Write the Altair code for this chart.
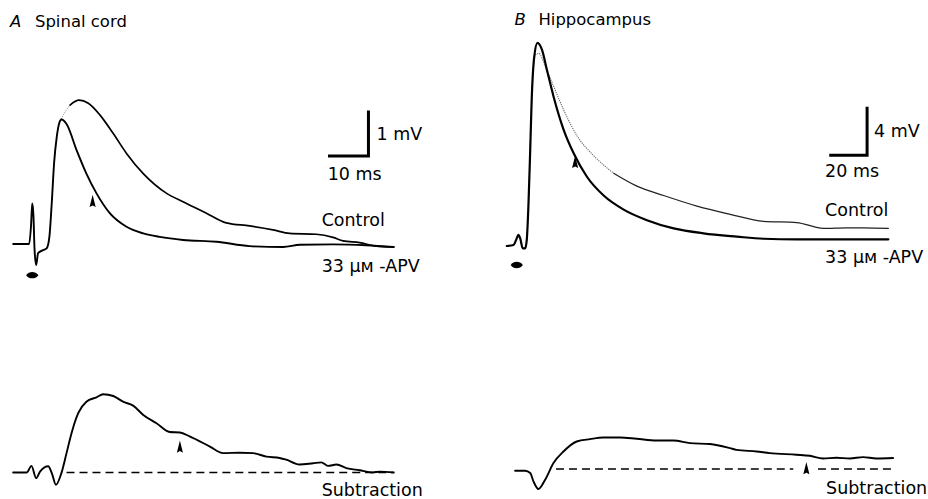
import altair as alt
import pandas as pd

FONT = "DejaVu Sans"

# ---------------- Panel A: spinal cord (time in ms, potential in mV) ----------------
A_CTRL_T = [0.3, 4.4, 4.9, 5.2, 5.5, 5.8, 6.2, 6.7, 8.0, 8.9, 9.6, 10.2, 10.8, 11.5, 12.1, 12.3,
            12.9, 14.9, 17.2, 19.6, 22.6, 26.0, 29.4, 33.7, 39.7, 43.9, 49.9, 55.0, 61.0, 67.0,
            71.3, 78.1, 82.4, 85.0, 89.2, 93.5, 98.0]
A_CTRL_V = [0.07, 0.07, 0.5, 0.99, 0.73, -0.07, -0.41, -0.14, -0.07, -0.03, 0.23, 0.99, 1.9, 2.51, 2.81, 2.85,
            2.96, 3.23, 3.34, 3.27, 3.0, 2.58, 2.13, 1.67, 1.22, 1.03, 0.77, 0.55, 0.48, 0.39,
            0.31, 0.29, 0.22, 0.14, 0.1, 0.02, 0.0]
A_APV_T = [0.3, 4.4, 4.9, 5.2, 5.5, 5.8, 6.2, 6.7, 8.0, 8.9, 9.6, 10.2, 10.8, 11.5, 12.1, 12.7,
           14.0, 16.6, 19.1, 21.7, 25.1, 29.4, 33.7, 37.9, 43.9, 52.5, 61.0, 69.6, 73.9, 82.4, 90.9, 98.0]
A_APV_V = [0.07, 0.07, 0.5, 0.99, 0.73, -0.07, -0.41, -0.14, -0.07, -0.03, 0.23, 0.99, 1.9, 2.51, 2.81, 2.9,
           2.8, 2.2, 1.67, 1.22, 0.77, 0.46, 0.31, 0.23, 0.16, 0.12, 0.02, 0.0, 0.05, 0.06, 0.04, 0.0]
A_SUB_T = [0.3, 3.8, 5.0, 6.2, 7.2, 9.3, 10.2, 11.3, 12.7, 14.0, 15.3, 17.0, 19.1, 21.7, 23.4, 26.0,
           28.5, 31.1, 33.7, 37.1, 40.5, 43.1, 45.6, 50.8, 54.2, 58.5, 61.9, 65.3, 68.7, 70.4, 73.8,
           77.3, 79.4, 81.1, 83.3, 85.8, 89.2, 92.6, 94.4, 98.0]
A_SUB_V = [0.0, 0.0, 0.15, -0.13, 0.02, 0.14, -0.01, -0.28, -0.01, 0.44, 0.9, 1.35, 1.61, 1.71, 1.78, 1.74,
           1.61, 1.52, 1.31, 1.12, 0.92, 0.91, 0.82, 0.59, 0.44, 0.45, 0.44, 0.36, 0.33, 0.29, 0.18,
           0.21, 0.23, 0.15, 0.18, 0.1, 0.05, 0.0, 0.02, 0.0]
A_BASE_T = [14.0, 98.0]
A_BASE_SEG = [0, 0]
A_FAINT_END = 14.9
A_STIM = (5.2, -0.64)
A_ARROW_TOP = (20.7, 1.05)
A_ARROW_BOT = (43.1, 0.59)
A_BAR_MS, A_BAR_MV = 10, 1
A_BAR_CORNER = (91.5, 2.07)

# ---------------- Panel B: hippocampus ----------------
B_APV_T = [0.0, 3.7, 5.5, 6.4, 7.4, 8.8, 10.1, 11.0, 11.9, 12.9, 13.7, 15.1, 16.9, 19.4, 22.1, 25.8,
           31.3, 36.8, 44.1, 53.3, 64.3, 77.1, 91.8, 108.2, 126.5, 141.2, 159.5, 209.9]
B_APV_V = [0.0, 0.09, 0.65, 0.94, 0.65, -0.2, -0.2, 0.51, 3.35, 8.17, 12.4, 16.1, 17.3, 16.7, 15.0, 12.7,
           9.9, 7.9, 5.9, 4.3, 3.1, 2.2, 1.5, 1.08, 0.8, 0.62, 0.57, 0.57]
B_CTRL_T = [0.0, 3.7, 5.5, 6.4, 7.4, 8.8, 10.1, 11.0, 11.9, 12.9, 13.7, 15.6, 17.6, 21.2, 25.8, 31.3,
            38.6, 47.8, 58.8, 71.6, 86.3, 104.6, 122.9, 141.2, 159.5, 174.2, 187.0, 196.2, 209.9]
B_CTRL_V = [0.0, 0.09, 0.65, 0.94, 0.65, -0.2, -0.2, 0.51, 3.35, 8.17, 12.4, 16.26, 16.4, 15.3, 13.6, 11.6,
            9.4, 7.7, 6.2, 5.1, 4.3, 3.4, 2.7, 2.1, 2.0, 1.5, 1.55, 1.55, 1.5]
B_SUB_T = [4.6, 10.1, 12.9, 14.7, 17.4, 21.1, 25.7, 31.2, 38.5, 45.8, 53.1, 62.3, 71.4, 82.4, 91.6,
           100.8, 111.8, 122.7, 126.4, 137.4, 144.7, 159.3, 166.7, 174.0, 181.3, 188.7, 196.0, 203.3, 212.5]
B_SUB_V = [-0.14, -0.14, -0.34, -1.05, -1.7, -0.91, 0.51, 1.5, 2.35, 2.55, 2.69, 2.69, 2.58, 2.43, 2.43,
           2.21, 2.13, 1.79, 1.64, 1.5, 1.36, 1.22, 1.13, 0.9, 0.96, 0.9, 1.02, 0.9, 0.94]
B_BASE_T = [27.1, 157.6, 171.2, 213.4]
B_BASE_SEG = [0, 0, 1, 1]
B_FAINT_END = 58.8
B_STIM = (5.5, -1.62)
B_ARROW_TOP = (37.6, 7.17)
B_ARROW_BOT = (164.8, 0.085)
B_BAR_MS, B_BAR_MV = 20, 4
B_BAR_CORNER = (198.2, 7.74)

# ---------------- text ----------------
TITLE_A = ["A", "Spinal cord"]
TITLE_B = ["B", "Hippocampus"]
BAR_A_LABELS = ["1 mV", "10 ms"]
BAR_B_LABELS = ["4 mV", "20 ms"]
TRACE_LABELS = ["Control", "33 \u03bc\u1d0d -APV"]
SUB_LABEL = "Subtraction"

# ---------------- layout helpers ----------------
PANEL_W, TOP_H, BOT_H = 464, 300, 199
LABEL_SIZE = 17.5
TITLE_SIZE = 16.5


def xscale(origin_px, px_per_unit):
    return alt.Scale(domain=[-origin_px / px_per_unit, (PANEL_W - origin_px) / px_per_unit],
                     nice=False, zero=False)


def yscale(origin_px, px_per_unit, height):
    return alt.Scale(domain=[(origin_px - height) / px_per_unit, origin_px / px_per_unit],
                     nice=False, zero=False)


def trace_df(t, v):
    return pd.DataFrame({"t": t, "v": v, "i": range(len(t))})


def line(df, xs, ys, width, color="black", dash=None, detail=None, smooth=True):
    kw = dict(strokeWidth=width, color=color, strokeJoin="round", strokeCap="round")
    if smooth:
        kw["interpolate"] = "monotone"
    if dash:
        kw["strokeDash"] = dash
        kw["strokeCap"] = "butt"
    enc = dict(x=alt.X("t:Q", scale=xs, axis=None), y=alt.Y("v:Q", scale=ys, axis=None),
               order="i:Q")
    if detail:
        enc["detail"] = detail
    return alt.Chart(df).mark_line(**kw).encode(**enc)


def marker(pt, xs, ys, shape, size):
    df = pd.DataFrame({"t": [pt[0]], "v": [pt[1]]})
    return alt.Chart(df).mark_point(shape=shape, size=size, filled=True, color="black",
                                    opacity=1, strokeWidth=0).encode(
        x=alt.X("t:Q", scale=xs, axis=None), y=alt.Y("v:Q", scale=ys, axis=None))


def scalebar(corner, ms, mv, xs, ys):
    df = pd.DataFrame({"t": [corner[0] - ms, corner[0], corner[0]],
                       "v": [corner[1], corner[1], corner[1] + mv], "i": [0, 1, 2]})
    return alt.Chart(df).mark_line(strokeWidth=3, color="black", strokeJoin="miter",
                                   strokeCap="square").encode(
        x=alt.X("t:Q", scale=xs, axis=None), y=alt.Y("v:Q", scale=ys, axis=None), order="i:Q")


def label(text, x, y, size=LABEL_SIZE, style="normal"):
    return alt.Chart(pd.DataFrame({"s": [text]})).mark_text(
        align="left", baseline="alphabetic", font=FONT, fontSize=size, fontStyle=style,
        color="black").encode(text="s:N", x=alt.value(x), y=alt.value(y))


ARROW = "M0,-1L0.5,1L0,0.75L-0.5,1Z"
STIM = "M-1,0C-0.5,-0.7 0.5,-0.7 1,0C0.5,0.7 -0.5,0.7 -1,0Z"

# ---------------- Panel A ----------------
xa = xscale(12, 3.9)
ya_top = yscale(247, 44, TOP_H)
ya_bot = yscale(172.7, 44, BOT_H)

a_ctrl = trace_df(A_CTRL_T, A_CTRL_V)
a_top = alt.layer(
    line(a_ctrl[a_ctrl.t <= A_FAINT_END], xa, ya_top, 1.0, color="#8a8a8a", dash=[1.2, 1.2]),
    line(a_ctrl[a_ctrl.t >= A_FAINT_END], xa, ya_top, 1.7),
    line(trace_df(A_APV_T, A_APV_V), xa, ya_top, 1.9),
    marker(A_STIM, xa, ya_top, STIM, 150),
    marker(A_ARROW_TOP, xa, ya_top, ARROW, 150),
    scalebar(A_BAR_CORNER, A_BAR_MS, A_BAR_MV, xa, ya_top),
    label(TITLE_A[0], 10, 27, TITLE_SIZE, "italic"),
    label(TITLE_A[1], 35, 27, TITLE_SIZE),
    label(BAR_A_LABELS[0], 377, 140),
    label(BAR_A_LABELS[1], 328, 180),
    label(TRACE_LABELS[0], 322, 226),
    label(TRACE_LABELS[1], 322, 272),
).properties(width=PANEL_W, height=TOP_H)

a_base = pd.DataFrame({"t": A_BASE_T, "v": [0.0] * len(A_BASE_T), "seg": A_BASE_SEG,
                       "i": range(len(A_BASE_T))})
a_bot = alt.layer(
    line(a_base, xa, ya_bot, 1.6, dash=[8, 5], detail="seg:N", smooth=False),
    line(trace_df(A_SUB_T, A_SUB_V), xa, ya_bot, 1.9),
    marker(A_ARROW_BOT, xa, ya_bot, ARROW, 150),
    label(SUB_LABEL, 322, 196),
).properties(width=PANEL_W, height=BOT_H)

# ---------------- Panel B ----------------
xb = xscale(43.3, 1.82)
yb_top = yscale(246, 11.75, TOP_H)
yb_bot = yscale(169.3, 11.75, BOT_H)

b_ctrl = trace_df(B_CTRL_T, B_CTRL_V)
b_top = alt.layer(
    line(b_ctrl[b_ctrl.t <= B_FAINT_END], xb, yb_top, 1.1, color="#6a6a6a", dash=[1.2, 1.0]),
    line(b_ctrl[b_ctrl.t >= B_FAINT_END], xb, yb_top, 1.2, color="#222222"),
    line(trace_df(B_APV_T, B_APV_V), xb, yb_top, 2.2),
    marker(B_STIM, xb, yb_top, STIM, 150),
    marker(B_ARROW_TOP, xb, yb_top, ARROW, 150),
    scalebar(B_BAR_CORNER, B_BAR_MS, B_BAR_MV, xb, yb_top),
    label(TITLE_B[0], 51, 25, TITLE_SIZE, "italic"),
    label(TITLE_B[1], 75, 25, TITLE_SIZE),
    label(BAR_B_LABELS[0], 411, 137),
    label(BAR_B_LABELS[1], 362, 177),
    label(TRACE_LABELS[0], 362, 216),
    label(TRACE_LABELS[1], 362, 263),
).properties(width=PANEL_W, height=TOP_H)

b_base = pd.DataFrame({"t": B_BASE_T, "v": [0.0] * len(B_BASE_T), "seg": B_BASE_SEG,
                       "i": range(len(B_BASE_T))})
b_bot = alt.layer(
    line(b_base, xb, yb_bot, 1.6, dash=[8, 5], detail="seg:N", smooth=False),
    line(trace_df(B_SUB_T, B_SUB_V), xb, yb_bot, 1.9),
    marker(B_ARROW_BOT, xb, yb_bot, ARROW, 150),
    label(SUB_LABEL, 363, 194),
).properties(width=PANEL_W, height=BOT_H)

chart = alt.concat(a_top, b_top, a_bot, b_bot, columns=2, spacing=0, bounds="flush").properties(
    padding=0, background="white"
).configure_view(stroke=None)

chart.save("out.html", embed_options={"renderer": "svg", "actions": False})
